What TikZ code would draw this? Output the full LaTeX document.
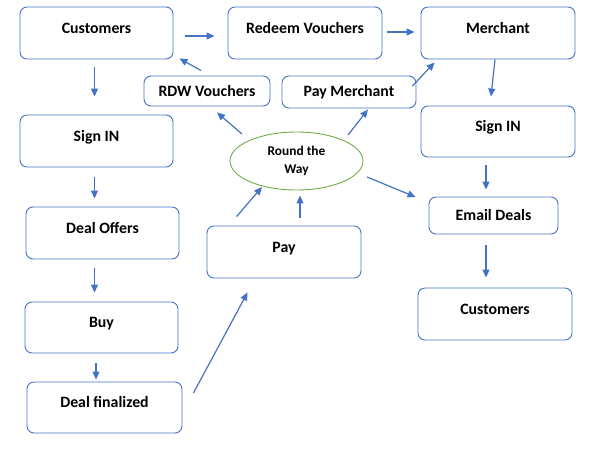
\documentclass[tikz,border=0pt]{standalone}
\usepackage{fontspec}
\setmainfont{Carlito}
\usetikzlibrary{arrows.meta,calc,shapes.geometric}
\definecolor{obl}{HTML}{4472C4}
\definecolor{ogr}{HTML}{70AD47}
\tikzset{
  box/.style={draw=obl, line width=0.9pt, rounded corners=7pt, fill=white, font=\bfseries\fontsize{15.8}{18}\selectfont, inner sep=0pt},
  boxhi/.style={box, text height=10pt, text depth=10pt},
  arr/.style={draw=obl, line width=1.2pt, -{Triangle[length=8pt,width=7pt]}},
  oval/.style={draw=ogr, line width=0.9pt, ellipse, inner sep=0pt, font=\bfseries\fontsize{13.4}{18}\selectfont, align=center}
}
\begin{document}
\begin{tikzpicture}[x=1pt,y=-1pt]
\useasboundingbox (0,0) rectangle (592,448);
% boxes
\node[boxhi, minimum width=153pt, minimum height=52pt] (cust1) at (96.5,33) {Customers};
\node[boxhi, minimum width=154pt, minimum height=52pt] (redeem) at (305,33) {Redeem Vouchers};
\node[boxhi, minimum width=154pt, minimum height=52pt] (merchant) at (498,33) {Merchant};
\node[box, minimum width=126pt, minimum height=30pt] (rdw) at (207,91) {RDW Vouchers};
\node[box, minimum width=134pt, minimum height=32pt] (paym) at (349,92) {Pay Merchant};
\node[boxhi, minimum width=153pt, minimum height=52pt] (signL) at (96.5,141) {Sign IN};
\node[boxhi, minimum width=154pt, minimum height=51pt] (signR) at (498,131.5) {Sign IN};
\node[oval, minimum width=133pt, minimum height=58pt] (rtw) at (296.5,161) {Round the\\Way};
\node[boxhi, minimum width=153pt, minimum height=52pt] (offers) at (102.5,233) {Deal Offers};
\node[boxhi, minimum width=153pt, minimum height=51pt] (buy) at (101.5,327.5) {Buy};
\node[boxhi, minimum width=155pt, minimum height=51pt] (final) at (104.5,407.5) {Deal finalized};
\node[boxhi, minimum width=154pt, minimum height=52pt] (pay) at (284,252) {Pay};
\node[box, minimum width=129pt, minimum height=37pt] (email) at (493.5,215.5) {Email Deals};
\node[boxhi, minimum width=154pt, minimum height=52pt] (cust2) at (495,314) {Customers};
% connectors
\draw[arr] ($(cust1.east)+(12,3)$) -- ($(redeem.west)+(-13,3)$);
\draw[arr] ($(redeem.east)+(5,-1)$) -- ($(merchant.west)+(-6,-1)$);
\draw[arr] ($(cust1.south)+(-2,8)$) -- ($(signL.north)+(-2,-18)$);
\draw[arr] ($(signL.south)+(-2,10)$) -- ($(offers.north)+(-8,-8)$);
\draw[arr] ($(offers.south)+(-8,9)$) -- ($(buy.north)+(-7,-9)$);
\draw[arr] ($(buy.south)+(-5.5,10)$) -- ($(final.north)+(-8.5,-2)$);
\draw[arr] ($(final.east)+(11,-14.5)$) -- ($(pay.south west)+(41,14)$);
\draw[arr] ($(pay.north west)+(30,-9)$) -- ($(rtw.center)+(-34.5,26)$);
\draw[arr] ($(pay.north)+(16,-8)$) -- ($(rtw.south)+(3.5,5)$);
\draw[arr] ($(rtw.center)+(-54.5,-27)$) -- ($(rdw.south)+(10,6)$);
\draw[arr] ($(rtw.center)+(51.5,-26)$) -- ($(paym.south)+(19,1)$);
\draw[arr] ($(paym.east)+(-4,-6)$) -- ($(merchant.south west)+(14,3)$);
\draw[arr] ($(rdw.north)+(-6,-5)$) -- ($(cust1.south east)+(6,-1)$);
\draw[arr] ($(rtw.center)+(70.5,16)$) -- ($(email.west)+(-13,-18.5)$);
\draw[arr] ($(merchant.south)+(-3,0)$) -- ($(signR.north)+(-7,-9)$);
\draw[arr] ($(signR.south)+(-12,8)$) -- ($(email.north)+(-7.5,-7)$);
\draw[arr] ($(email.south)+(-7.5,11)$) -- ($(cust2.north)+(-9,-10)$);
\end{tikzpicture}
\end{document}
